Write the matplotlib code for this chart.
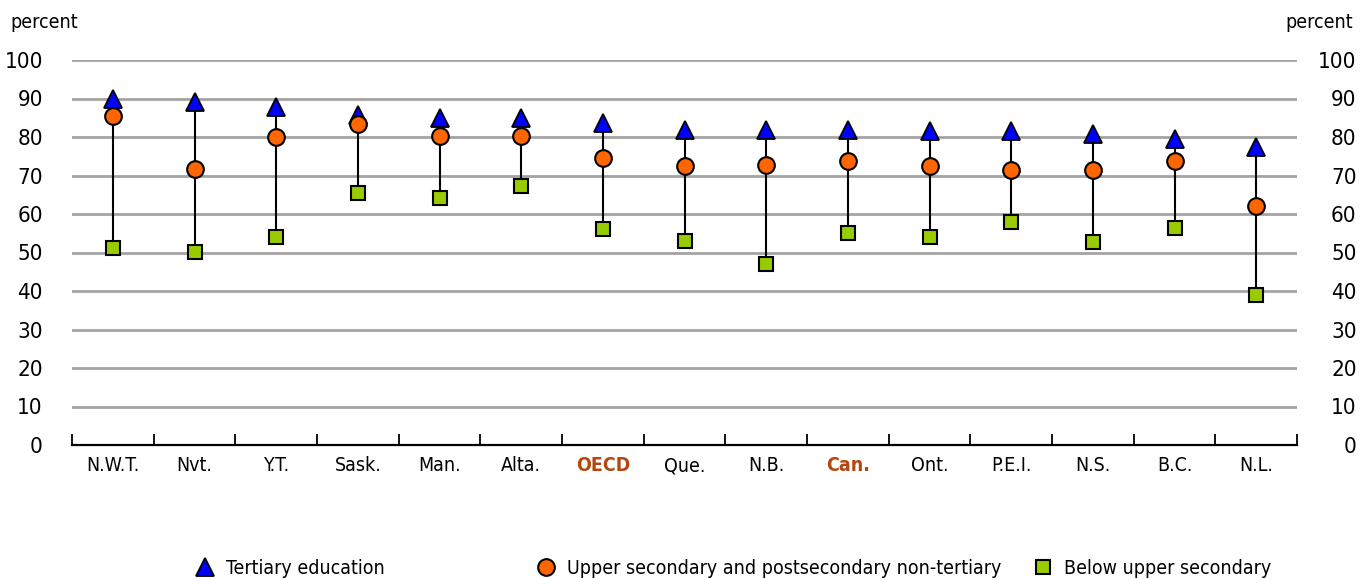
import matplotlib
matplotlib.use("Agg")
import matplotlib.pyplot as plt
from matplotlib.lines import Line2D

plt.rcParams['font.family'] = ['Liberation Sans Narrow', 'DejaVu Sans']
plt.rcParams['font.stretch'] = 'condensed'

regions = ["N.W.T.", "Nvt.", "Y.T.", "Sask.", "Man.", "Alta.", "OECD", "Que.",
           "N.B.", "Can.", "Ont.", "P.E.I.", "N.S.", "B.C.", "N.L."]
tertiary = [90.0, 89.0, 87.8, 85.7, 85.0, 85.0, 83.6, 81.8, 81.8, 81.8, 81.6, 81.6, 80.8, 79.5, 77.4]
upper_sec = [85.5, 71.7, 80.0, 83.4, 80.3, 80.3, 74.5, 72.5, 72.7, 73.8, 72.5, 71.4, 71.4, 73.8, 62.0]
below_sec = [51.2, 50.1, 54.0, 65.5, 64.2, 67.3, 56.1, 53.0, 47.0, 55.0, 54.0, 57.9, 52.7, 56.4, 39.0]
y_ticks = list(range(0, 101, 10))
highlight = ["OECD", "Can."]

tri_color = "#0000FF"
circ_color = "#FF6600"
sq_color = "#99CC00"
hl_color = "#B5460F"

fig = plt.figure(figsize=(13.72, 5.79), dpi=100)
ax = fig.add_axes([72 / 1372, 134 / 579, 1225 / 1372, 385 / 579])

x = list(range(len(regions)))
for xi, t, u, b in zip(x, tertiary, upper_sec, below_sec):
    lo, hi = min(t, u, b), max(t, u, b)
    ax.plot([xi, xi], [lo, hi], color="black", lw=1.5, zorder=2)

ax.plot(x, below_sec, ls="none", marker="s", ms=10.5, mfc=sq_color, mec="black", mew=1.5, zorder=3)
ax.plot(x, upper_sec, ls="none", marker="o", ms=12, mfc=circ_color, mec="black", mew=1.5, zorder=4)
ax.plot(x, tertiary, ls="none", marker="^", ms=13, mfc=tri_color, mec="black", mew=1.3, zorder=3.5)

ax.set_xlim(-0.5, len(regions) - 0.5)
ax.set_ylim(0, 100)
for g in y_ticks[1:]:
    ax.axhline(g, color="#a4a4a4", lw=2, zorder=1)

for s in ["top", "left", "right"]:
    ax.spines[s].set_visible(False)
ax.spines["bottom"].set_linewidth(1.6)
ax.spines["bottom"].set_zorder(5)

ax.set_xticks([i - 0.5 for i in range(len(regions) + 1)])
ax.set_xticklabels([])
ax.set_xticks(x, minor=True)
ax.set_xticklabels(regions, minor=True, fontsize=14)
ax.tick_params(axis="x", which="major", direction="in", length=8, width=1.3)
ax.tick_params(axis="x", which="minor", length=0, pad=8)
for lbl in ax.get_xticklabels(minor=True):
    if lbl.get_text() in highlight:
        lbl.set_color(hl_color)
        lbl.set_fontweight("bold")

ax.set_yticks(y_ticks)
ax.set_yticklabels([str(v) for v in y_ticks], fontsize=16)
ax.tick_params(axis="y", length=0, pad=21)

ax2 = ax.twinx()
ax2.set_ylim(0, 100)
ax2.set_yticks(y_ticks)
ax2.set_yticklabels([str(v) for v in y_ticks], fontsize=16, ha="right")
ax2.tick_params(axis="y", length=0, pad=43)
for s in ["top", "left", "right", "bottom"]:
    ax2.spines[s].set_visible(False)

fig.text(10 / 1372, 1 - 22 / 579, "percent", fontsize=14, va="center", ha="left")
fig.text(1353 / 1372, 1 - 22 / 579, "percent", fontsize=14, va="center", ha="right")

entries = [
    (Line2D([], [], ls="none", marker="^", ms=13, mfc=tri_color, mec="black", mew=1.3),
     "Tertiary education", 202),
    (Line2D([], [], ls="none", marker="o", ms=12, mfc=circ_color, mec="black", mew=1.5),
     "Upper secondary and postsecondary non-tertiary", 543),
    (Line2D([], [], ls="none", marker="s", ms=10.5, mfc=sq_color, mec="black", mew=1.5),
     "Below upper secondary", 1040),
]
for handle, label, px in entries:
    fig.legend([handle], [label], loc="center left", bbox_to_anchor=(px / 1372 - 0.012, 1 - 568 / 579),
               frameon=False, fontsize=14, handlelength=1.0, handletextpad=0.6, borderpad=0)

fig.savefig("out.png", dpi=100)
